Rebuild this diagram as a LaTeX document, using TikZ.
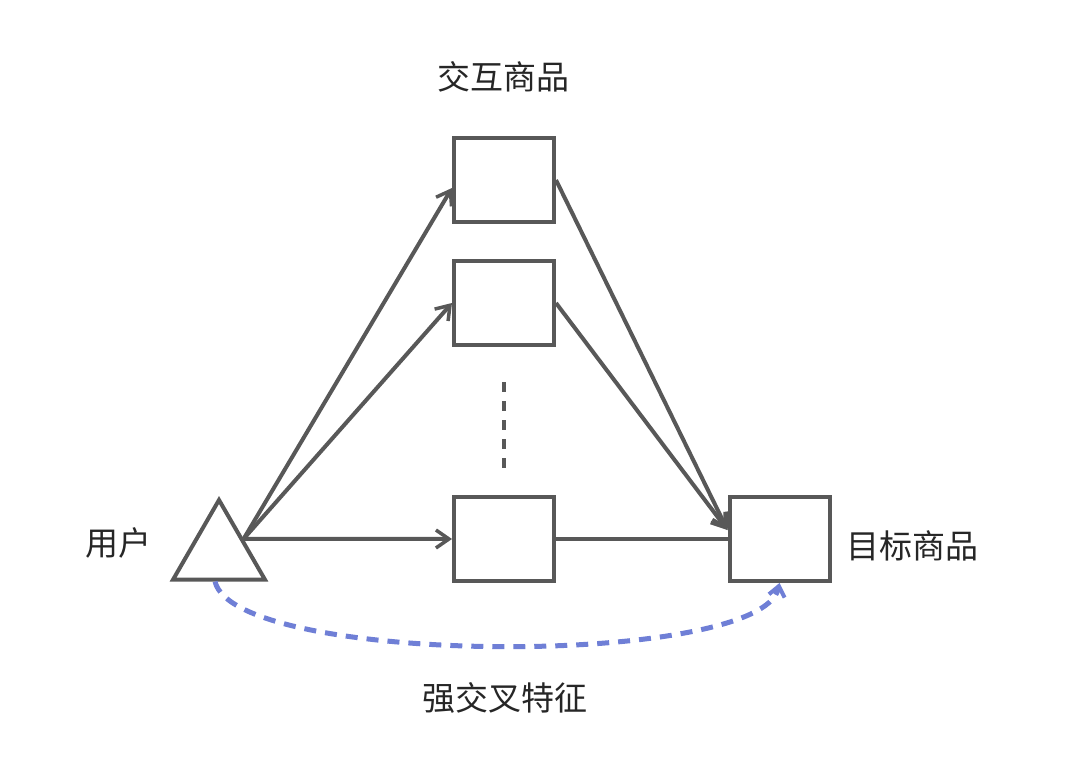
\documentclass[tikz,border=0pt]{standalone}
\usepackage{fontspec}
\newfontfamily\cjk{Noto Sans CJK SC}
\usepackage{xcolor}
\usepackage{tikz}
\usetikzlibrary{arrows.meta,positioning,calc,shapes.geometric}
\definecolor{cLine}{HTML}{585858}
\definecolor{cCross}{HTML}{6F7FD6}
\tikzset{
  cellbox/.style={draw=cLine, line width=4pt, minimum width=100pt, minimum height=84pt, inner sep=0pt},
  usertri/.style={regular polygon, regular polygon sides=3, draw=cLine, line width=4pt,
                  minimum size=106pt, inner sep=0pt},
  link/.style={-{Straight Barb[length=13pt, width=18pt, line width=3.5pt]}, line width=4pt, draw=cLine},
  plain/.style={line width=4pt, draw=cLine},
  cross/.style={-{Straight Barb[length=10pt, width=16pt, line width=4pt]}, line width=5pt, draw=cCross,
                dash pattern=on 12pt off 9pt},
  lbl/.style={font=\cjk\fontsize{33}{40}\selectfont, text=black!85, inner sep=0pt},
}
\begin{document}
\begin{tikzpicture}[x=1pt, y=-1pt]
  \useasboundingbox (0,0) rectangle (1080,758);
  % nodes
  \node[usertri] (tri) at (219,553) {};
  \node[cellbox] (b1) at (504,180) {};
  \node[cellbox] (b2) at (504,303) {};
  \node[cellbox] (b3) at (504,539) {};
  \node[cellbox] (tgt) at (779.5,539) {};
  \coordinate (src) at ($(tri.corner 1)!.5!(tri.corner 3)$);
  % labels
  \node[lbl] (lUser) at (118,543) {用户};
  \node[lbl] (lItems) at (503,77) {交互商品};
  \node[lbl] (lTgt) at (912,546) {目标商品};
  \node[lbl] (lCross) at (505,698) {强交叉特征};
  % user -> interacted items
  \draw[link] (src) -- ($(b1.west)+(0,8)$);
  \draw[link] (src) -- (b2.west);
  \draw[link] (src) -- (b3.west);
  % interacted items -> target
  \draw[link] (b1.east) -- ($(tgt.west)+(0,-9)$);
  \draw[link] (b2.east) -- ($(tgt.west)+(0,-9)$);
  \draw[plain] (b3.east) -- (tgt.west);
  \draw[plain, dash pattern=on 10pt off 9pt, shorten <=35pt, shorten >=25pt] (b2.south) -- (b3.north);
  % cross feature
  \draw[cross] ([xshift=-4pt]tri.south) .. controls +(20,85) and +(-18,85) .. (tgt.south);
\end{tikzpicture}
\end{document}
